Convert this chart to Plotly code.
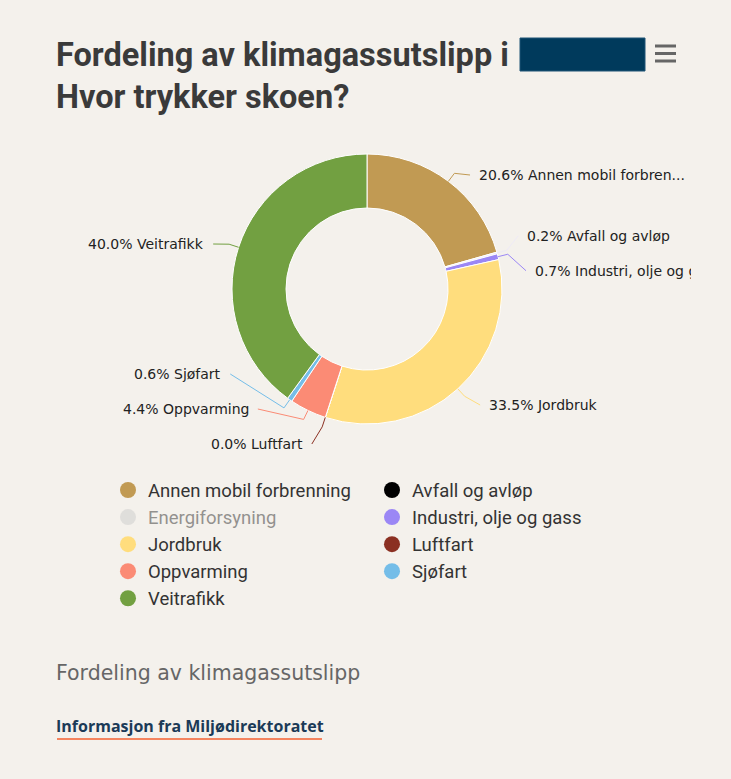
import math
import plotly.graph_objects as go

# Emission shares by sector (percent)
categories = [
    "Annen mobil forbrenning",
    "Avfall og avløp",
    "Energiforsyning",
    "Industri, olje og gass",
    "Jordbruk",
    "Luftfart",
    "Oppvarming",
    "Sjøfart",
    "Veitrafikk",
]
shares = [20.6, 0.2, 0.0, 0.7, 33.5, 0.0, 4.4, 0.6, 40.0]
hidden = ["Energiforsyning"]
legend_colors = [
    "#c19a53",
    "#000000",
    "#cccccc",
    "#9b87f5",
    "#ffdd7d",
    "#8b3022",
    "#fb8b75",
    "#74bde8",
    "#72a041",
]
# The sliver for waste is rendered light in the ring
slice_colors = [
    "#c19a53",
    "#eeeaf6",
    "#cccccc",
    "#9b87f5",
    "#ffdd7d",
    "#8b3022",
    "#fb8b75",
    "#74bde8",
    "#72a041",
]
# Shortened data-label names
label_names = {
    "Annen mobil forbrenning": "Annen mobil forbren...",
}

W, H = 731, 779
BG = "#f4f1ec"
CX, CY, R = 367, 289, 135          # donut centre and outer radius (px)
LABEL_DIST = 30                    # data label distance from the rim
LABEL_RING = 167                   # ring the label text edge sits on
GAP = 35                           # minimum vertical spacing of labels
Y_LO, Y_HI = 175, 444              # vertical bounds for labels
CLIP_X = 691                       # right edge of the label area
LEFT = 54                          # left text edge


def px(x):
    return x / W


def py(y):
    return 1 - y / H


vis = [(c, v, col) for c, v, col in zip(categories, shares, slice_colors) if c not in hidden]
vis_names = [c for c, _, _ in vis]
vis_vals = [v for _, v, _ in vis]
vis_cols = [col for _, _, col in vis]
total = sum(vis_vals)

fig = go.Figure()

fig.add_trace(go.Pie(
    labels=vis_names,
    values=vis_vals,
    marker=dict(colors=vis_cols, line=dict(color="#ffffff", width=1)),
    hole=0.6,
    sort=False,
    direction="clockwise",
    rotation=0,
    textinfo="none",
    showlegend=False,
    hoverinfo="label+percent",
    domain=dict(x=[px(CX - R), px(CX + R)], y=[py(CY + R), py(CY - R)]),
))

# Legend entries as circle markers
for c, col in zip(categories, legend_colors):
    fig.add_trace(go.Scatter(
        x=[None], y=[None], mode="markers", name=c,
        marker=dict(size=16, color=col, symbol="circle"),
        visible="legendonly" if c in hidden else True,
        hoverinfo="skip",
    ))

# Outside data labels with connectors, derived from the slice angles
items = []
cum = 0.0
for name, v, col in vis:
    frac = v / total
    theta = 2 * math.pi * (cum + frac / 2)
    cum += frac
    ideal = CY - (R + LABEL_DIST) * math.cos(theta) + 6
    side = "right" if math.sin(theta) >= 0 else "left"
    items.append(dict(name=name, v=v, col=col, theta=theta, ideal=ideal, side=side))


def spread(group, lo, hi):
    group.sort(key=lambda d: d["ideal"])
    clusters = [[d] for d in group]

    def top_of(cl):
        n = len(cl)
        t = sum(d["ideal"] for d in cl) / n - (n - 1) * GAP / 2
        return min(max(t, lo), hi - (n - 1) * GAP)

    merged = True
    while merged:
        merged = False
        for i in range(len(clusters) - 1):
            a, b = clusters[i], clusters[i + 1]
            if top_of(a) + len(a) * GAP > top_of(b):
                clusters[i] = a + b
                del clusters[i + 1]
                merged = True
                break
    for cl in clusters:
        t = top_of(cl)
        for k, d in enumerate(cl):
            d["y"] = t + k * GAP
            # labels pushed down from the top keep the x of their ideal height
            d["y_for_x"] = d["ideal"] if d["ideal"] < lo else d["y"]


spread([d for d in items if d["side"] == "right"], Y_LO, Y_HI - 39)
spread([d for d in items if d["side"] == "left"], Y_LO, Y_HI)

shapes = []
annotations = []
for d in items:
    s = 1 if d["side"] == "right" else -1
    dy = d["y_for_x"] - CY
    lx = CX + s * math.sqrt(max(LABEL_RING ** 2 - dy ** 2, 0))
    ex = CX + R * math.sin(d["theta"])
    ey = CY - R * math.cos(d["theta"])
    mx = CX + (R + 10) * math.sin(d["theta"])
    my = CY - (R + 10) * math.cos(d["theta"])
    endx = lx - s * 7
    path = f"M {px(ex)},{py(ey)} L {px(mx)},{py(my)} L {px(endx)},{py(d['y'])}"
    shapes.append(dict(type="path", xref="paper", yref="paper", path=path,
                       line=dict(color=d["col"], width=1), layer="above"))
    text = f"{d['v']:.1f}% {label_names.get(d['name'], d['name'])}"
    annotations.append(dict(
        x=px(lx), y=py(d["y"]), xref="paper", yref="paper",
        xanchor="left" if s > 0 else "right", yanchor="middle",
        text=text, showarrow=False,
        font=dict(family="DejaVu Sans", size=14, color="#222222"),
    ))

# Labels are clipped at the right edge of the chart area
annotations.append(dict(
    x=px(CLIP_X), y=py(CY), xref="paper", yref="paper", xanchor="left", yanchor="middle",
    text=" ", showarrow=False, width=W - CLIP_X, height=2 * R + 60,
    bgcolor=BG, borderpad=0, borderwidth=0,
))

# Title and footer texts
annotations += [
    dict(x=px(LEFT), y=py(55), xref="paper", yref="paper", xanchor="left", yanchor="middle",
         text="<b>Fordeling av klimagassutslipp i</b>", showarrow=False,
         font=dict(family="Roboto", size=32.5, color="#3a3a3a")),
    dict(x=px(LEFT), y=py(97), xref="paper", yref="paper", xanchor="left", yanchor="middle",
         text="<b>Hvor trykker skoen?</b>", showarrow=False,
         font=dict(family="Roboto", size=32.5, color="#3a3a3a")),
    dict(x=px(LEFT), y=py(673), xref="paper", yref="paper", xanchor="left", yanchor="middle",
         text="Fordeling av klimagassutslipp", showarrow=False,
         font=dict(family="DejaVu Sans", size=20.5, color="#666666")),
    dict(x=px(LEFT), y=py(726), xref="paper", yref="paper", xanchor="left", yanchor="middle",
         text="<b>Informasjon fra Miljødirektoratet</b>", showarrow=False,
         font=dict(family="Open Sans", size=16, color="#1b3a57")),
]

# Title box, menu icon and link underline
shapes += [
    dict(type="rect", xref="paper", yref="paper", x0=px(520), x1=px(645), y0=py(71), y1=py(38),
         fillcolor="#003a5c", line=dict(color="#1e5577", width=1), layer="above"),
    dict(type="rect", xref="paper", yref="paper", x0=px(57), x1=px(322), y0=py(740), y1=py(738),
         fillcolor="#f4845f", line=dict(width=0), layer="above"),
]
for yy in (46, 53.5, 61):
    shapes.append(dict(type="line", xref="paper", yref="paper", x0=px(655), x1=px(676),
                       y0=py(yy), y1=py(yy), line=dict(color="#666666", width=3)))

fig.update_layout(
    width=W, height=H,
    margin=dict(l=0, r=0, t=0, b=0, pad=0),
    paper_bgcolor=BG, plot_bgcolor=BG,
    xaxis=dict(visible=False), yaxis=dict(visible=False),
    showlegend=True,
    legend=dict(
        orientation="h", x=px(108), y=py(471.5), xanchor="left", yanchor="top",
        entrywidth=219, font=dict(family="Roboto", size=18.5, color="#333333"),
        bgcolor="rgba(0,0,0,0)", itemclick=False, itemdoubleclick=False,
        traceorder="normal",
    ),
    shapes=shapes,
    annotations=annotations,
)

fig.write_html("out.html")
